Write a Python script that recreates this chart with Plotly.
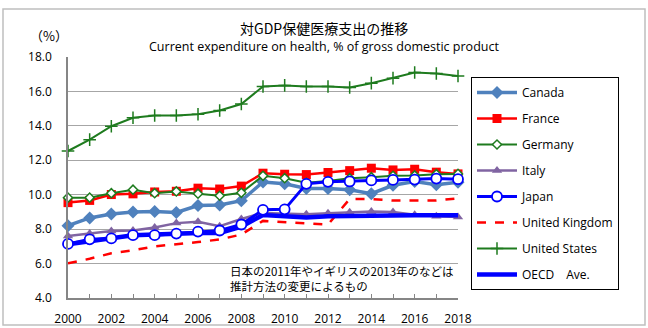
import plotly.graph_objects as go

years = list(range(2000, 2019))

canada = [8.2, 8.65, 8.88, 9.0, 9.02, 8.97, 9.37, 9.4, 9.65, 10.74, 10.64, 10.36, 10.36, 10.29, 10.06, 10.55, 10.77, 10.58, 10.72]
france = [9.54, 9.67, 10.01, 10.05, 10.16, 10.2, 10.38, 10.33, 10.5, 11.25, 11.19, 11.17, 11.29, 11.4, 11.54, 11.44, 11.48, 11.31, 11.21]
germany = [9.83, 9.83, 10.09, 10.29, 10.09, 10.19, 10.06, 9.94, 10.11, 11.1, 10.96, 10.7, 10.8, 10.96, 11.02, 11.1, 11.12, 11.19, 11.21]
italy = [7.6, 7.75, 7.89, 7.92, 8.1, 8.35, 8.43, 8.17, 8.59, 8.94, 8.91, 8.87, 8.92, 8.98, 9.02, 9.0, 8.84, 8.75, 8.71]
japan = [7.14, 7.41, 7.46, 7.65, 7.65, 7.74, 7.86, 7.92, 8.27, 9.12, 9.15, 10.63, 10.75, 10.77, 10.83, 10.86, 10.88, 10.94, 10.9]
uk = [6.01, 6.28, 6.6, 6.77, 7.0, 7.11, 7.25, 7.4, 7.69, 8.48, 8.42, 8.37, 8.27, 9.75, 9.75, 9.66, 9.65, 9.67, 9.79]
us = [12.54, 13.2, 13.98, 14.47, 14.6, 14.6, 14.67, 14.89, 15.27, 16.29, 16.35, 16.29, 16.29, 16.23, 16.48, 16.77, 17.1, 17.04, 16.9]
oecd = [7.12, 7.31, 7.48, 7.64, 7.69, 7.75, 7.77, 7.78, 8.15, 8.82, 8.73, 8.68, 8.75, 8.77, 8.77, 8.83, 8.8, 8.8, 8.81]

xticks = list(range(2000, 2019, 2))
yticks = [4, 6, 8, 10, 12, 14, 16, 18]

title_jp = "対GDP保健医療支出の推移"
title_en = "Current expenditure on health, % of gross domestic product"
note = "日本の2011年やイギリスの2013年のなどは<br>推計方法の変更によるもの"
unit = "（%）"

FONT = "Open Sans, Noto Sans CJK JP, sans-serif"

fig = go.Figure()

def add(name, y, color, width, rank, symbol=None, msize=0, mfill=None, mline=None, dash="solid", mlw=1.5):
    marker = dict(size=msize, symbol=symbol or "circle", color=mfill or color,
                  line=dict(color=mline or color, width=mlw if mline else 0))
    fig.add_trace(go.Scatter(
        x=years, y=y, name=name, mode="lines+markers" if symbol else "lines",
        line=dict(color=color, width=width, dash=dash),
        marker=marker, cliponaxis=False, legendrank=rank, legendgroup=name,
    ))

add("Canada", canada, "#4F81BD", 3.5, 1, "diamond", 10)
add("France", france, "#FF0000", 2.5, 2, "square", 9)
add("Germany", germany, "#1E7B1E", 2, 3, "diamond", 7, mfill="white", mline="#1E7B1E")
add("Italy", italy, "#8064A2", 2.5, 4, "triangle-up", 9)
add("United Kingdom", uk, "#FF0000", 2.5, 6, dash="dash")
add("United States", us, "#1E7B1E", 2, 7, "cross-thin", 9, mline="#1E7B1E")
add("OECD\u3000Ave.", oecd, "#0000FF", 4.5, 8)
add("Japan", japan, "#0000FF", 3, 5, "circle", 10, mfill="white", mline="#0000FF", mlw=1.8)

L, R, T, B = 68, 190, 57, 30
W, H = 648, 328
pw, ph = W - L - R, H - T - B

def px(x):
    return (x - L) / pw

def py(y):
    return (H - B - y) / ph

fig.update_layout(
    width=W, height=H,
    margin=dict(l=L, r=R, t=T, b=B, autoexpand=False),
    paper_bgcolor="white", plot_bgcolor="white",
    font=dict(family=FONT, size=12, color="#000000"),
    showlegend=True,
    legend=dict(
        x=px(471), y=py(77), xanchor="left", yanchor="top",
        bordercolor="#000000", borderwidth=1, bgcolor="white",
        font=dict(size=12), tracegroupgap=7, itemwidth=40,
    ),
    xaxis=dict(
        range=[2000, 2018], tickvals=xticks, ticks="inside", ticklen=4,
        tickcolor="#868686", showline=True, linecolor="#868686", linewidth=1.5,
        showgrid=False, zeroline=False, ticklabelstandoff=9, automargin=False,
        minor=dict(dtick=1, ticks="inside", ticklen=4, tickcolor="#868686"),
        tickfont=dict(size=12),
    ),
    yaxis=dict(
        range=[4, 18], tickvals=yticks, tickformat=".1f", automargin=False,
        showline=True, linecolor="#868686", linewidth=1.5,
        showgrid=True, gridcolor="#A6A6A6", gridwidth=1, zeroline=False,
        ticks="", ticklabelstandoff=12, tickfont=dict(size=12),
    ),
    shapes=[
        dict(type="rect", xref="paper", yref="paper",
             x0=px(3), x1=px(645), y0=py(325), y1=py(9),
             line=dict(color="#BFBFBF", width=1.5), fillcolor="rgba(0,0,0,0)", layer="below"),
        dict(type="rect", xref="paper", yref="paper",
             x0=px(218), x1=1.0, y0=py(296), y1=py(256),
             line=dict(width=0), fillcolor="white", layer="between"),
    ],
    annotations=[
        dict(text=title_jp, xref="paper", yref="paper", x=px(324), y=py(28),
             showarrow=False, font=dict(size=14, family="Noto Sans CJK JP"), yanchor="middle"),
        dict(text=title_en, xref="paper", yref="paper", x=px(324), y=py(47),
             showarrow=False, font=dict(size=12.5), yanchor="middle"),
        dict(text=unit, xref="paper", yref="paper", x=px(70), y=py(35),
             showarrow=False, xanchor="right",
             font=dict(size=13, family="Noto Sans CJK JP"), yanchor="middle"),
        dict(text=note, xref="paper", yref="paper", x=px(228), y=py(261),
             showarrow=False, align="left", xanchor="left", yanchor="top",
             font=dict(size=11.5, family="Noto Sans CJK JP")),
    ],
)

fig.write_html("out.html")
